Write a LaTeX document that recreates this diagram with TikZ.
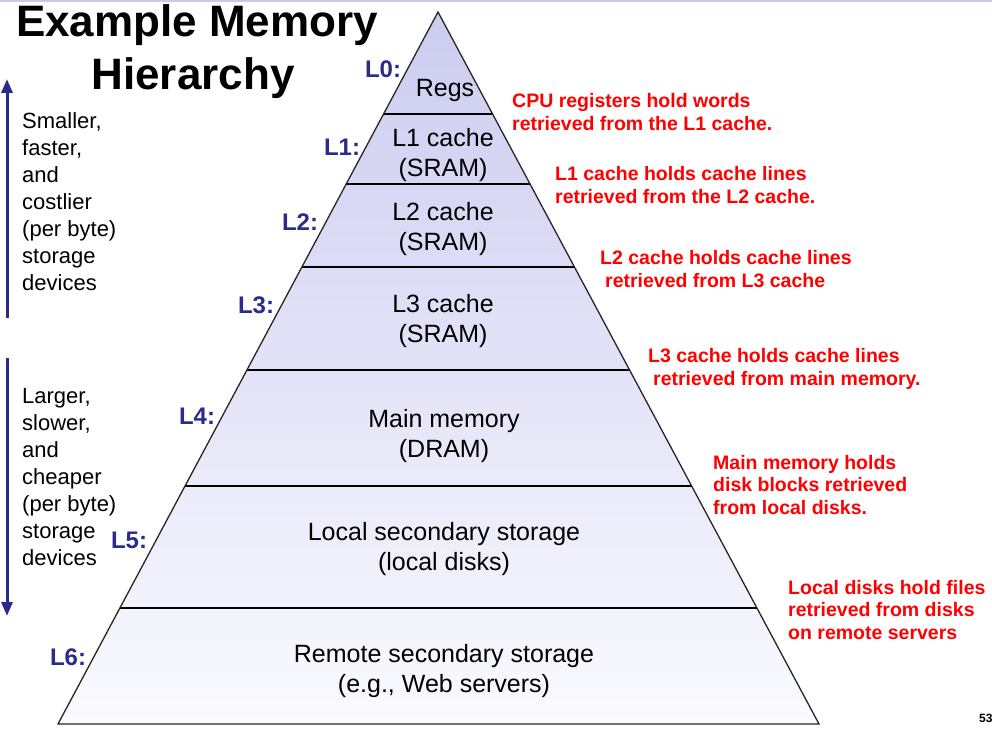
\documentclass[tikz,border=0pt]{standalone}
\usepackage{fontspec}
\setmainfont{Liberation Sans}
\usetikzlibrary{calc,arrows.meta}
\definecolor{navy}{RGB}{43,43,140}
\definecolor{redtxt}{RGB}{255,0,0}
\definecolor{toplav}{RGB}{204,204,240}
\definecolor{botlav}{RGB}{250,250,255}
\definecolor{toprule}{RGB}{200,200,240}
\tikzset{
  titletext/.style={font=\fontsize{44}{52}\selectfont\bfseries, anchor=base, inner sep=0pt},
  lvl/.style={font=\fontsize{24}{28}\selectfont\bfseries, text=navy, inner sep=0pt},
  box/.style={font=\fontsize{25}{30}\selectfont, align=center, inner sep=0pt},
  note/.style={font=\fontsize{19.5}{22.5}\selectfont\bfseries, text=redtxt, align=left, anchor=west, inner sep=0pt},
  side/.style={font=\fontsize{22}{27}\selectfont, align=left, anchor=west, inner sep=0pt},
  sidearrow/.style={draw=navy, line width=3pt, -{Triangle[width=11pt,length=14pt]}},
  edge/.style={draw=black!85, line width=1.3pt},
  sep/.style={draw=black, line width=1.5pt}
}
\begin{document}
\begin{tikzpicture}[x=1pt,y=-1pt]
\useasboundingbox (0,0) rectangle (992,730);
\fill[toprule] (0,0) rectangle (992,2);

% title
\node[titletext] (t1) at (197,37) {Example Memory};
\node[titletext] (t2) at (193,90) {Hierarchy};

% pyramid
\coordinate (apex) at (438,12);
\coordinate (bl) at (58,724);
\coordinate (br) at (819,724);
\shade[top color=toplav, bottom color=botlav] (apex) -- (bl) -- (br) -- cycle;
\foreach \f in {0.1433,0.2416,0.3581,0.5028,0.6657,0.8371}{
  \draw[sep] ($(apex)!\f!(bl)$) -- ($(apex)!\f!(br)$);
}
\draw[edge, line join=miter] (apex) -- (bl) -- (br) -- cycle;

% level contents
\node[box] (b0) at (445,90) {Regs};
\node[box] (b1) at (443,155) {L1 cache\\(SRAM)};
\node[box] (b2) at (443,229) {L2 cache\\(SRAM)};
\node[box] (b3) at (443,321) {L3 cache\\(SRAM)};
\node[box] (b4) at (444,436) {Main memory\\(DRAM)};
\node[box] (b5) at (444,549) {Local secondary storage\\(local disks)};
\node[box] (b6) at (444,671) {Remote secondary storage\\(e.g., Web servers)};

% level labels
\node[lvl] (L0) at (383,69) {L0:};
\node[lvl] (L1) at (342,147) {L1:};
\node[lvl] (L2) at (300,222) {L2:};
\node[lvl] (L3) at (256,305) {L3:};
\node[lvl] (L4) at (197,416) {L4:};
\node[lvl] (L5) at (129,540) {L5:};
\node[lvl] (L6) at (68,657) {L6:};

% notes
\node[note] (n0) at (512,112) {CPU registers hold words\\retrieved from the L1 cache.};
\node[note] (n1) at (555,185) {L1 cache holds cache lines\\retrieved from the L2 cache.};
\node[note] (n2) at (600,269) {L2 cache holds cache lines\\\hspace{5pt}retrieved from L3 cache};
\node[note] (n3) at (648,369) {L3 cache holds cache lines\\\hspace{5pt}retrieved from main memory.};
\node[note] (n4) at (713,485) {Main memory holds\\disk blocks retrieved\\from local disks.};
\node[note] (n5) at (788,610) {Local disks hold files\\retrieved from disks\\on remote servers};

% side texts and arrows
\coordinate (a1s) at (7,318);
\coordinate (a1e) at (7,79);
\coordinate (a2s) at (7,358);
\coordinate (a2e) at (7,616);
\draw[sidearrow] (a1s) -- (a1e);
\draw[sidearrow] (a2s) -- (a2e);
\node[side] (s1) at (22,202) {Smaller,\\faster,\\and\\costlier\\(per byte)\\storage\\devices};
\node[side] (s2) at (22,477) {Larger,\\slower,\\and\\cheaper\\(per byte)\\storage\\devices};

% page number
\node[font=\fontsize{12}{14}\selectfont\bfseries, anchor=west, inner sep=0pt] (pg) at (979,718) {53};
\end{tikzpicture}
\end{document}
